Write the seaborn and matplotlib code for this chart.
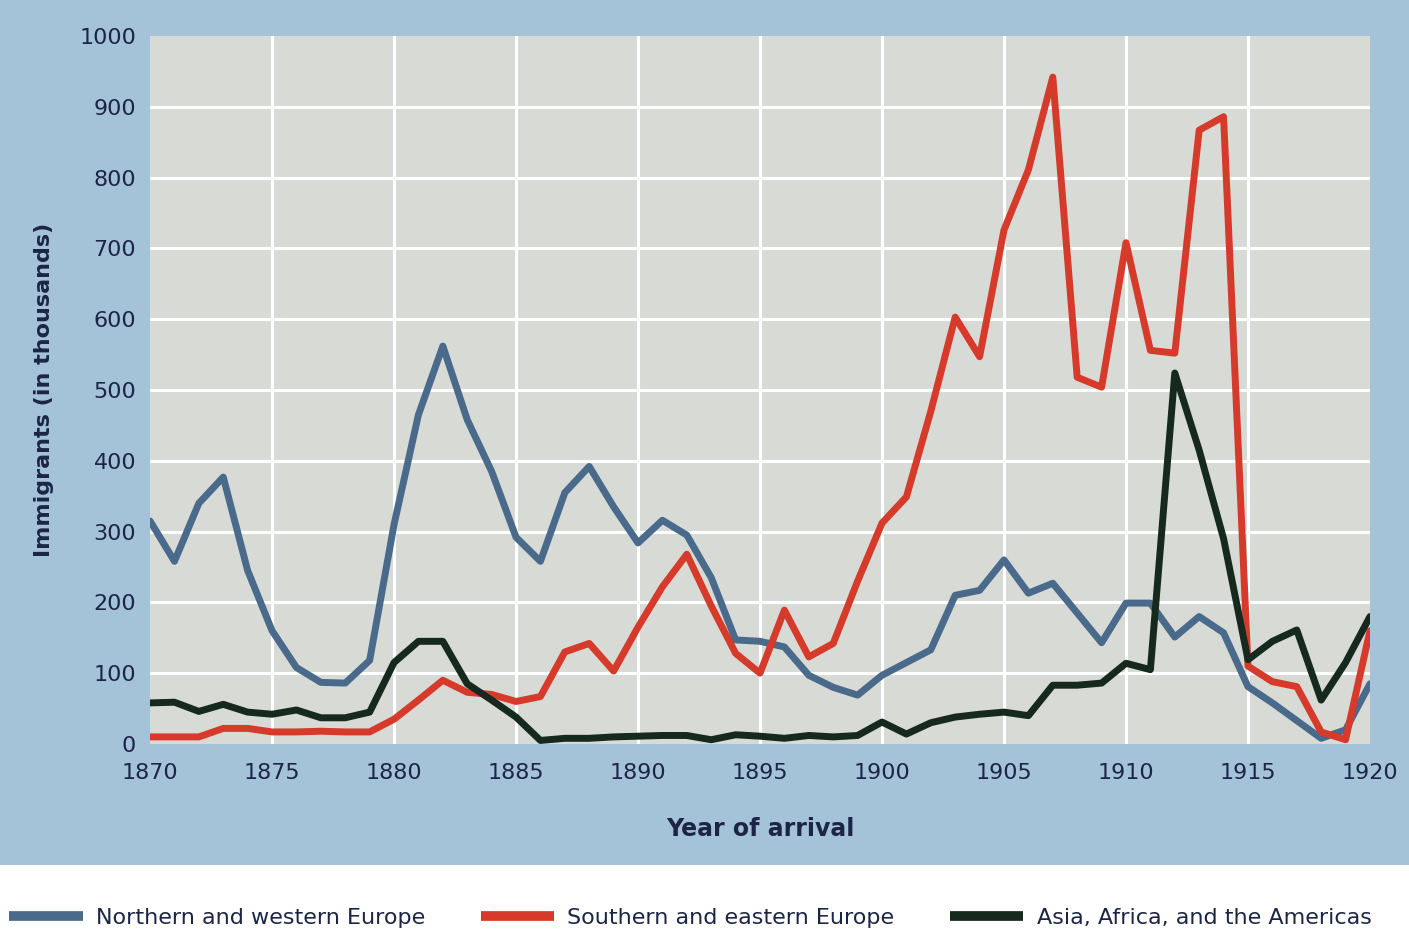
import pandas as pd
import seaborn as sns
import matplotlib.pyplot as plt
from matplotlib.patches import Rectangle

# Yearly immigration by region of origin (thousands)
years = list(range(1870, 1921))
northwest = [315, 258, 340, 377, 245, 160, 108, 87, 86, 118,
             310, 465, 562, 458, 385, 292, 258, 355, 392, 335,
             284, 316, 295, 235, 147, 145, 137, 97, 80, 69,
             97, 115, 133, 210, 217, 260, 213, 227, 185, 143,
             199, 199, 151, 180, 157, 81, 58, 33, 8, 20,
             85]
southeast = [10, 10, 10, 22, 22, 17, 17, 18, 17, 17,
             35, 62, 90, 73, 70, 60, 67, 130, 142, 103,
             165, 222, 268, 195, 128, 100, 189, 123, 142, 230,
             312, 349, 470, 603, 547, 726, 811, 942, 518, 504,
             708, 556, 552, 867, 886, 110, 88, 81, 17, 6,
             160]
other = [58, 59, 46, 56, 45, 42, 48, 37, 37, 45,
         115, 145, 145, 85, 62, 38, 5, 8, 8, 10,
         11, 12, 12, 6, 13, 11, 8, 12, 10, 12,
         31, 14, 30, 38, 42, 45, 40, 83, 83, 86,
         114, 105, 524, 415, 290, 119, 145, 161, 62, 115,
         180]
regions = ["Northern and western Europe", "Southern and eastern Europe",
           "Asia, Africa, and the Americas"]
colors = ["#4a6a8b", "#d63a2a", "#16291f"]

df = pd.DataFrame({
    "Year": years * 3,
    "Immigrants": northwest + southeast + other,
    "Region": [regions[0]] * len(years) + [regions[1]] * len(years) + [regions[2]] * len(years),
})

sns.set_theme(style="darkgrid", rc={
    "axes.facecolor": "#d8dad5",
    "grid.color": "white",
    "grid.linewidth": 2.2,
})
plt.rcParams["font.family"] = ["DejaVu Sans"]

fig = plt.figure(figsize=(14.09, 9.33), dpi=100, facecolor="white")
fig.patches.append(Rectangle((0, 0.073), 1, 0.927, transform=fig.transFigure,
                             facecolor="#a4c2d8", edgecolor="none", zorder=-10))
ax = fig.add_axes([0.1065, 0.2026, 0.8658, 0.7588])

sns.lineplot(data=df, x="Year", y="Immigrants", hue="Region", hue_order=regions,
             palette=dict(zip(regions, colors)), linewidth=5, ax=ax)

ax.set_xlim(1870, 1920)
ax.set_ylim(0, 1000)
ax.set_xticks(range(1870, 1921, 5))
ax.set_yticks(range(0, 1001, 100))
for s in ax.spines.values():
    s.set_visible(False)
ax.tick_params(axis="both", length=0, labelsize=16, colors="#1c2644")
ax.tick_params(axis="x", pad=14)
ax.tick_params(axis="y", pad=10)
ax.set_xlabel("Year of arrival", fontsize=17, fontweight="bold", color="#1c2644", labelpad=24)
ax.set_ylabel("Immigrants (in thousands)", fontsize=16, fontweight="bold", color="#1c2644", labelpad=18)

# no white grid lines on the edges of the plot area
xg = ax.xaxis.get_gridlines()
yg = ax.yaxis.get_gridlines()
for g in (xg[0], xg[-1], yg[0], yg[-1]):
    g.set_visible(False)

handles, labels = ax.get_legend_handles_labels()
ax.get_legend().remove()
for h in handles:
    h.set_linewidth(7)
    h.set_solid_capstyle("butt")
fig.legend(handles, labels, loc="center", bbox_to_anchor=(0.49, 0.016), ncol=3,
           frameon=False, fontsize=16, handlelength=3.3, columnspacing=2.5,
           handletextpad=0.6, labelcolor="#1c2644")

fig.savefig("out.png", dpi=100, facecolor=fig.get_facecolor())
